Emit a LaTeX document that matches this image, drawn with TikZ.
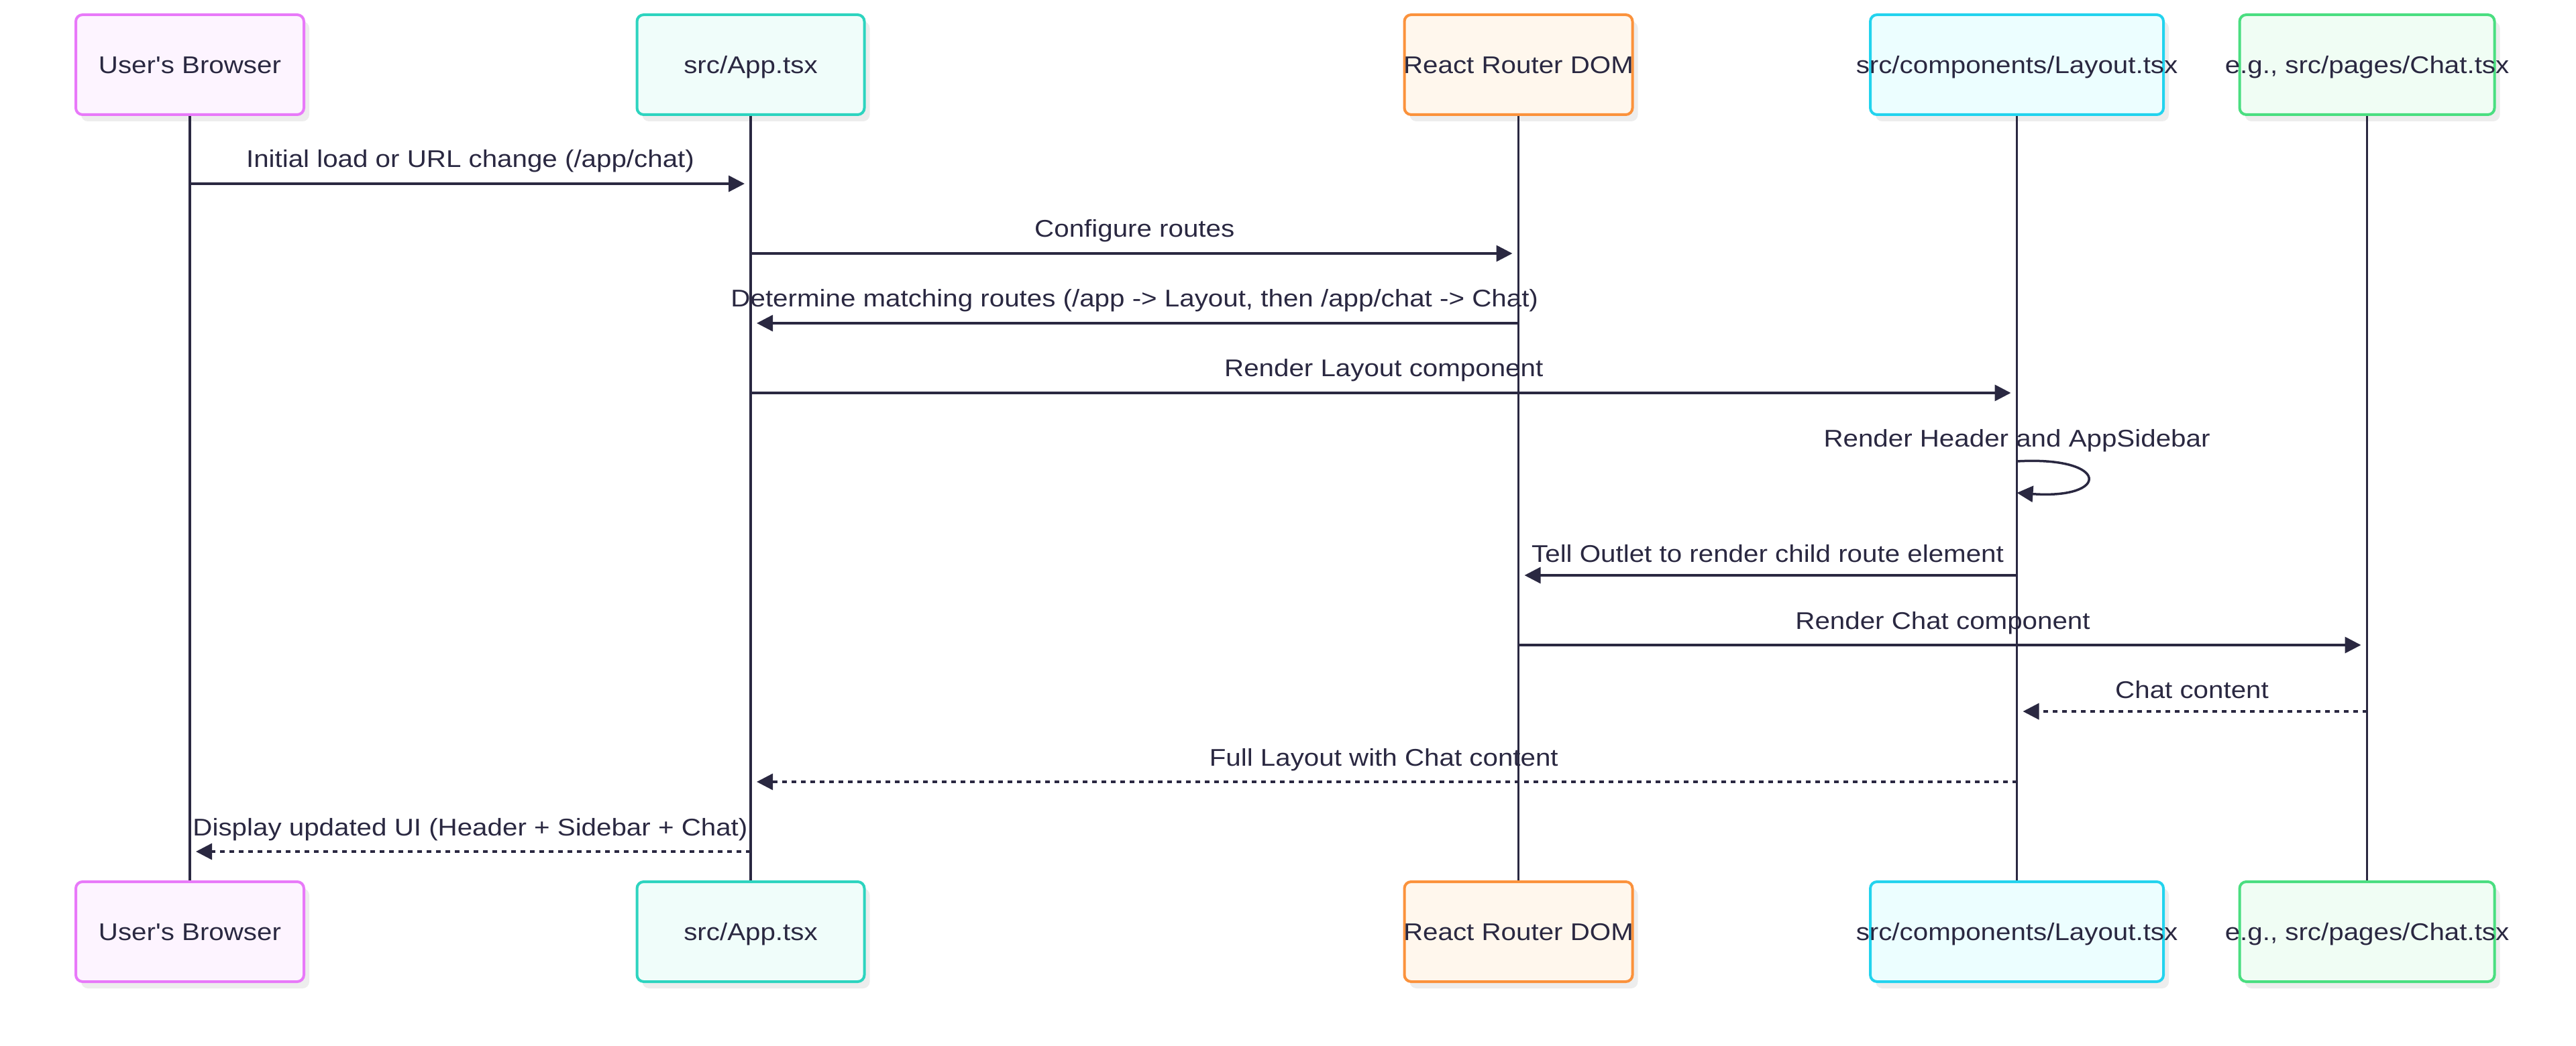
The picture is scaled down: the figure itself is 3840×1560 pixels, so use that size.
\documentclass[tikz,border=0pt]{standalone}
\usepackage{fontspec}
\setmainfont{Liberation Sans}[FakeStretch=1.12, Ligatures=TeXOff]
\usetikzlibrary{arrows.meta,shadows,calc}
\definecolor{ink}{HTML}{2A2841}
\definecolor{brd}{HTML}{E879F9}\definecolor{brf}{HTML}{FDF4FF}
\definecolor{apd}{HTML}{2DD4BF}\definecolor{apf}{HTML}{F0FDFA}
\definecolor{rrd}{HTML}{FB923C}\definecolor{rrf}{HTML}{FFF7ED}
\definecolor{lyd}{HTML}{22D3EE}\definecolor{lyf}{HTML}{ECFEFF}
\definecolor{chd}{HTML}{4ADE80}\definecolor{chf}{HTML}{F0FDF4}
\begin{document}
\begin{tikzpicture}[x=0.25pt,y=-0.25pt,
  actor/.style={draw, line width=1pt, rounded corners=2.5pt, minimum height=37.25pt,
    inner sep=0pt,
    drop shadow={shadow xshift=2pt, shadow yshift=-2.5pt, fill=black!7, opacity=1}},
  atext/.style={text height=6.45pt, text depth=0pt, inner sep=0pt, text=ink,
    font=\fontsize{9}{11}\selectfont},
  life/.style={draw=ink, line width=0.9pt},
  msg/.style={draw=ink, line width=0.875pt, -{Triangle[length=6pt,width=6pt]}, shorten >=2.25pt},
  ret/.style={msg, dash pattern=on 1.75pt off 1.75pt},
  lbl/.style={font=\fontsize{9}{11}\selectfont, text=ink, anchor=base, inner sep=0pt}]
\useasboundingbox[fill=white] (0,0) rectangle (3840,1560);
% top actors
\node[actor, draw=brd, fill=brf, minimum width=85pt] (br) at (283,96.5) {};
\node[actor, draw=apd, fill=apf, minimum width=84.75pt] (ap) at (1119,96.5) {};
\node[actor, draw=rrd, fill=rrf, minimum width=85pt] (rr) at (2263.5,96.5) {};
\node[actor, draw=lyd, fill=lyf, minimum width=109.25pt] (ly) at (3006.5,96.5) {};
\node[actor, draw=chd, fill=chf, minimum width=95pt] (ch) at (3528.5,96.5) {};
\node[atext] (brt) at (br) {User's Browser};
\node[atext] (apt) at (ap) {src/App.tsx};
\node[atext] (rrt) at (rr) {React Router DOM};
\node[atext] (lyt) at (ly) {src/components/Layout.tsx};
\node[atext] (cht) at (ch) {e.g., src/pages/Chat.tsx};
% bottom actors
\node[actor, draw=brd, fill=brf, minimum width=85pt] (brb) at (283,1389.5) {};
\node[actor, draw=apd, fill=apf, minimum width=84.75pt] (apb) at (1119,1389.5) {};
\node[actor, draw=rrd, fill=rrf, minimum width=85pt] (rrb) at (2263.5,1389.5) {};
\node[actor, draw=lyd, fill=lyf, minimum width=109.25pt] (lyb) at (3006.5,1389.5) {};
\node[actor, draw=chd, fill=chf, minimum width=95pt] (chb) at (3528.5,1389.5) {};
\node[atext] (brbt) at (brb) {User's Browser};
\node[atext] (apbt) at (apb) {src/App.tsx};
\node[atext] (rrbt) at (rrb) {React Router DOM};
\node[atext] (lybt) at (lyb) {src/components/Layout.tsx};
\node[atext] (chbt) at (chb) {e.g., src/pages/Chat.tsx};
% lifelines
\draw[life] (br.south) -- (brb.north);
\draw[life] (ap.south) -- (apb.north);
\draw[life] (rr.south) -- (rrb.north);
\draw[life] (ly.south) -- (lyb.north);
\draw[life] (ch.south) -- (chb.north);
% messages
\draw[msg] (br.south |- 0,274) -- (ap.south |- 0,274)
  node[lbl, midway, yshift=6pt] {Initial load or URL change (/app/chat)};
\draw[msg] (ap.south |- 0,378) -- (rr.south |- 0,378)
  node[lbl, midway, yshift=6pt] {Configure routes};
\draw[msg] (rr.south |- 0,482) -- (ap.south |- 0,482)
  node[lbl, midway, yshift=6pt] {Determine matching routes (/app -> Layout, then /app/chat -> Chat)};
\draw[msg] (ap.south |- 0,586) -- (ly.south |- 0,586)
  node[lbl, midway, yshift=6pt] {Render Layout component};
\coordinate (s1) at (ly.south |- 0,688);
\coordinate (s2) at (ly.south |- 0,735);
\node[lbl] (slbl) at (ly.south |- 0,667) {Render Header and AppSidebar};
\draw[msg, shorten >=0pt] (s1) .. controls (3146,680) and (3146,745) .. (s2);
\draw[msg] (ly.south |- 0,858) -- (rr.south |- 0,858)
  node[lbl, midway, yshift=5pt] {Tell Outlet to render child route element};
\draw[msg] (rr.south |- 0,962) -- (ch.south |- 0,962)
  node[lbl, midway, yshift=6pt] {Render Chat component};
\draw[ret] (ch.south |- 0,1061) -- (ly.south |- 0,1061)
  node[lbl, midway, yshift=5pt] {Chat content};
\draw[ret] (ly.south |- 0,1166) -- (ap.south |- 0,1166)
  node[lbl, midway, yshift=6pt] {Full Layout with Chat content};
\draw[ret] (ap.south |- 0,1270) -- (br.south |- 0,1270)
  node[lbl, midway, yshift=6pt] {Display updated UI (Header + Sidebar + Chat)};
\end{tikzpicture}
\end{document}
